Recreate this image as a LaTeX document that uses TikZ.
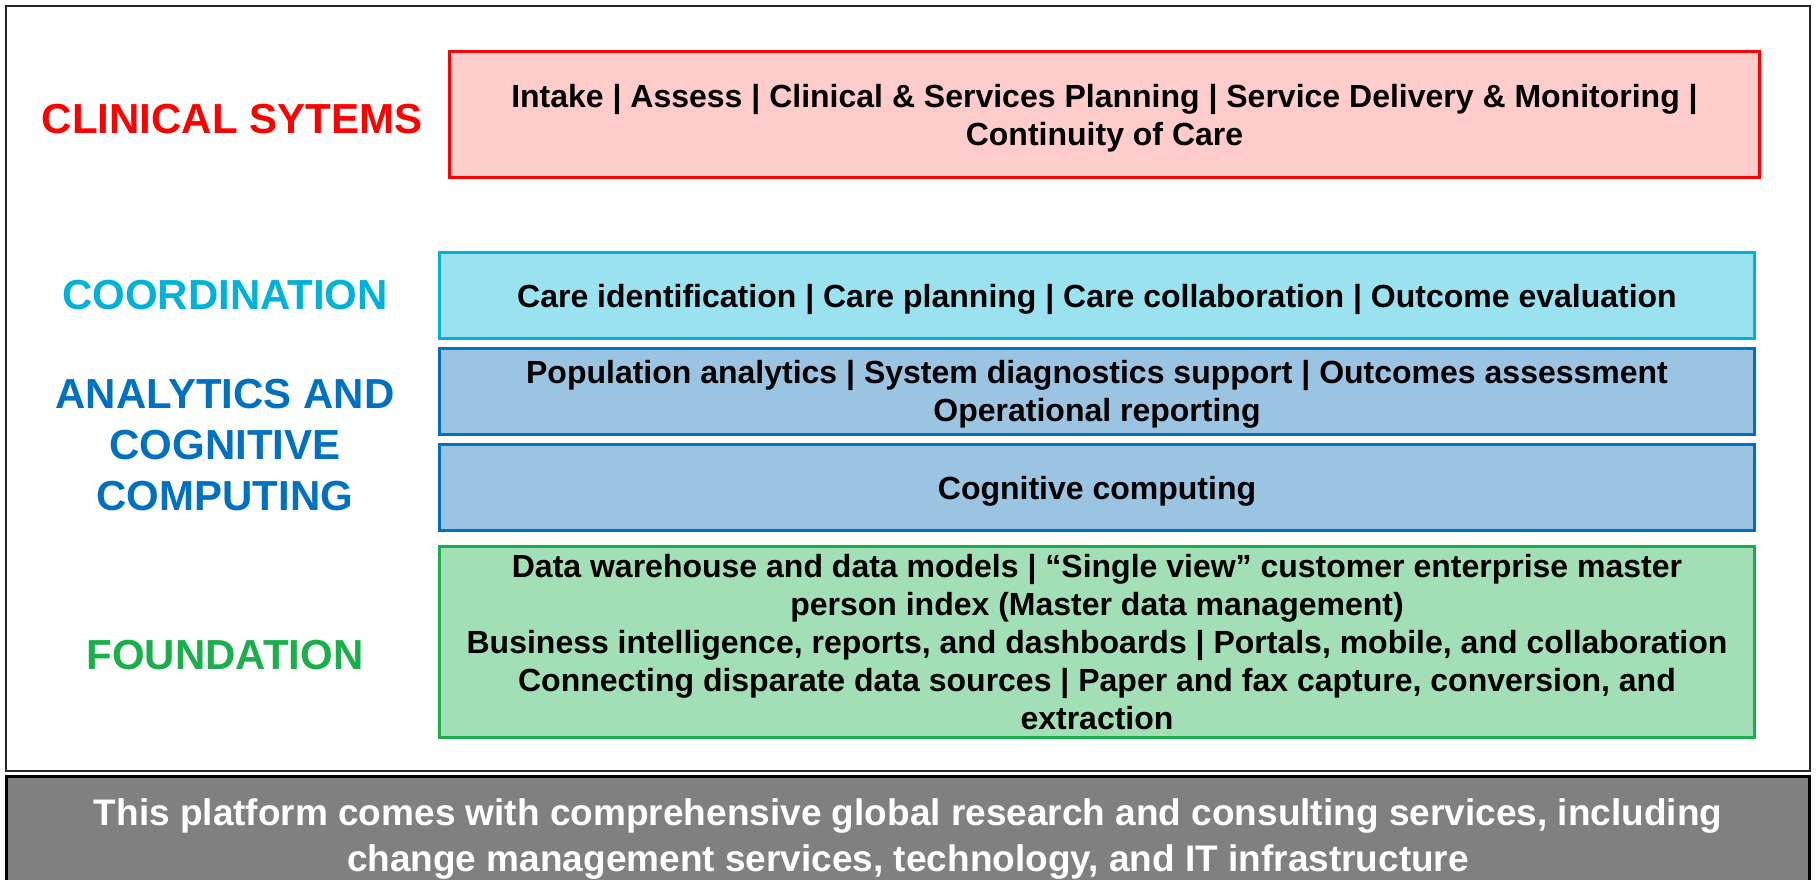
\documentclass[tikz,border=0pt]{standalone}
\usepackage{fontspec}
\setmainfont{Liberation Sans}
\usetikzlibrary{shapes}

\definecolor{redline}{RGB}{255,0,0}
\definecolor{redfill}{RGB}{255,204,204}
\definecolor{cyanline}{RGB}{0,178,216}
\definecolor{cyanfill}{RGB}{155,226,240}
\definecolor{blueline}{RGB}{0,112,192}
\definecolor{bluefill}{RGB}{155,196,226}
\definecolor{greenline}{RGB}{26,175,75}
\definecolor{greenfill}{RGB}{162,223,182}
\definecolor{footgrey}{RGB}{128,128,128}

\begin{document}
\begin{tikzpicture}[x=1pt, y=-1pt]
\tikzstyle{boxx}=[rectangle, line width=3pt, align=center, inner sep=0pt, text depth=-4pt, font=\fontsize{32}{38}\selectfont\bfseries]
\tikzstyle{boxr}=[boxx, draw=redline, fill=redfill, line width=2.5pt, minimum width=1310pt, minimum height=126pt]
\tikzstyle{boxc}=[boxx, draw=cyanline, fill=cyanfill, minimum width=1315pt, minimum height=86pt]
\tikzstyle{boxb}=[boxx, draw=blueline, fill=bluefill, minimum width=1315pt, minimum height=86pt]
\tikzstyle{boxg}=[boxx, draw=greenline, fill=greenfill, minimum width=1315pt, minimum height=191pt]
\tikzstyle{headtext}=[align=center, inner sep=0pt, font=\fontsize{42}{51}\selectfont\bfseries]

\useasboundingbox (0,0) rectangle (1816,880);
\draw[black!85, line width=2pt] (6,6) rectangle (1810,771);

% tiers
\node[boxr] (B0) at (1104.5,114.5) {Intake | Assess | Clinical \& Services Planning | Service Delivery \& Monitoring |\\Continuity of Care};
\node[boxc] (B1) at (1097,295.5) {Care identification | Care planning | Care collaboration | Outcome evaluation};
\node[boxb] (B2) at (1097,391) {Population analytics | System diagnostics support | Outcomes assessment\\Operational reporting};
\node[boxb] (B3) at (1097,487.5) {Cognitive computing};
\node[boxg] (B4) at (1097,642) {Data warehouse and data models | “Single view” customer enterprise master\\person index (Master data management)\\Business intelligence, reports, and dashboards | Portals, mobile, and collaboration\\Connecting disparate data sources | Paper and fax capture, conversion, and\\extraction};

% headings
\node[headtext, text=redline] (L0) at (232,119) {CLINICAL SYTEMS};
\node[headtext, text=cyanline] (L1) at (225,295) {COORDINATION};
\node[headtext, text=blueline] (L2) at (225,445) {ANALYTICS AND\\COGNITIVE\\COMPUTING};
\node[headtext, text=greenline] (L3) at (225,655) {FOUNDATION};

% footer
\node[rectangle, draw=black, line width=3pt, fill=footgrey, text=white, align=center, minimum width=1803pt, minimum height=117pt, inner sep=0pt, text depth=0pt, font=\fontsize{37}{46}\selectfont\bfseries] (F0) at (908,835) {This platform comes with comprehensive global research and consulting services, including\\change management services, technology, and IT infrastructure};
\end{tikzpicture}
\end{document}
